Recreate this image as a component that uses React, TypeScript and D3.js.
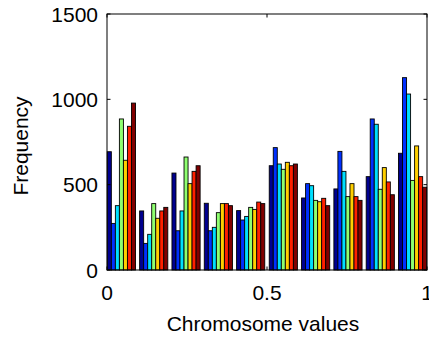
import React from "react";
import * as d3 from "d3";

// Bin centres of the histogram (chromosome value bins)
const binCenters = [0.045, 0.146, 0.247, 0.348, 0.449, 0.551, 0.652, 0.753, 0.854, 0.955];

// Frequency counts per bin, one array per series
const series1 = [693, 346, 568, 391, 348, 611, 422, 475, 547, 684];
const series2 = [273, 156, 230, 230, 293, 717, 506, 695, 885, 1127];
const series3 = [377, 209, 346, 250, 314, 621, 494, 578, 854, 1031];
const series4 = [885, 389, 662, 336, 367, 590, 408, 430, 473, 525];
const series5 = [643, 303, 506, 389, 355, 631, 400, 506, 600, 727];
const series6 = [842, 346, 578, 389, 398, 611, 420, 430, 516, 547];
const series7 = [978, 367, 611, 377, 389, 621, 377, 408, 441, 485];

const allSeries = [series1, series2, series3, series4, series5, series6, series7];

// jet colormap entries for 7 series
const seriesColors = [
  "rgb(0,0,143)",
  "rgb(0,48,255)",
  "rgb(0,223,255)",
  "rgb(143,255,112)",
  "rgb(255,207,0)",
  "rgb(255,32,0)",
  "rgb(128,0,0)",
];

const xTicks = [0, 0.5, 1];
const xTickLabels = ["0", "0.5", "1"];
const yTicks = [0, 500, 1000, 1500];

const W = 429;
const H = 340;
const left = 107;
const right = 427;
const top = 14;
const bottom = 270;
const groupWidth = 0.088;
const font = "'Liberation Sans', Arial, sans-serif";
const fontSize = 21;
const tickLen = 3.5;

export default function App() {
  const x = d3.scaleLinear().domain([0, 1]).range([left, right]);
  const y = d3.scaleLinear().domain([0, 1500]).range([bottom, top]);
  const n = allSeries.length;
  const barW = groupWidth / n;

  return (
    <svg
      width={W}
      height={H}
      style={{ position: "absolute", left: 0, top: 0, background: "#fff" }}
    >
      <rect x={0} y={0} width={W} height={H} fill="#fff" />
      {allSeries.map((vals, si) =>
        vals.map((v, bi) => {
          const x0 = x(binCenters[bi] - groupWidth / 2 + si * barW);
          const x1 = x(binCenters[bi] - groupWidth / 2 + (si + 1) * barW);
          return (
            <rect
              key={`${si}-${bi}`}
              x={x0}
              y={y(v)}
              width={x1 - x0}
              height={y(0) - y(v)}
              fill={seriesColors[si]}
              stroke="#000"
              strokeWidth={0.9}
            />
          );
        })
      )}
      {/* axes box */}
      <rect
        x={left}
        y={top}
        width={right - left}
        height={bottom - top}
        fill="none"
        stroke="#000"
        strokeWidth={1}
      />
      {/* inward ticks */}
      {yTicks.map((t) => (
        <g key={`yt${t}`}>
          <line x1={left} x2={left + tickLen} y1={y(t)} y2={y(t)} stroke="#000" />
          <line x1={right} x2={right - tickLen} y1={y(t)} y2={y(t)} stroke="#000" />
          <text
            x={98}
            y={y(t)}
            textAnchor="end"
            dominantBaseline="central"
            fontFamily={font}
            fontSize={fontSize}
            fill="#000"
          >
            {t}
          </text>
        </g>
      ))}
      {xTicks.map((t, i) => (
        <g key={`xt${t}`}>
          <line x1={x(t)} x2={x(t)} y1={bottom} y2={bottom - tickLen} stroke="#000" />
          <line x1={x(t)} x2={x(t)} y1={top} y2={top + tickLen} stroke="#000" />
          <text
            x={x(t)}
            y={300}
            textAnchor="middle"
            fontFamily={font}
            fontSize={fontSize}
            fill="#000"
          >
            {xTickLabels[i]}
          </text>
        </g>
      ))}
      <text
        x={263}
        y={331}
        textAnchor="middle"
        fontFamily={font}
        fontSize={fontSize}
        fill="#000"
      >
        Chromosome values
      </text>
      <text
        transform={`translate(28,146) rotate(-90)`}
        textAnchor="middle"
        fontFamily={font}
        fontSize={fontSize}
        fill="#000"
      >
        Frequency
      </text>
    </svg>
  );
}
